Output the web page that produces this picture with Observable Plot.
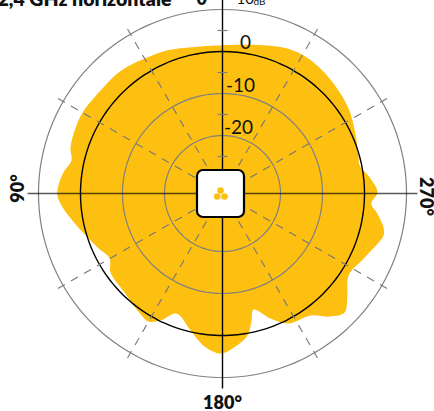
<!DOCTYPE html>
<html>
<head>
<meta charset="utf-8">
<style>html,body{margin:0;padding:0;background:#fff}svg{display:block}</style>
<script src="https://cdn.jsdelivr.net/npm/d3@7"></script>
<script src="https://cdn.jsdelivr.net/npm/@observablehq/plot@0.6"></script>
</head>
<body>
<div id="chart"></div>
<script>
const patternAngles = [0,8.5,21,30.5,34.4,41.2,49.8,60,66.1,73.2,77.7,82.5,87.2,90.7,95,100.2,106,113.4,119.9,125.2,135.9,144,150,154,159,166.9,172.9,179.3,184.1,190,192.9,195,201,206.9,215.8,221.3,225.7,230.2,237,245.3,255.4,258,262.6,266.2,270.4,275.8,281.6,284.8,294.3,304,314.7,323.4,329.6,335.9,344.5,353];
const patternDb = [1.5,1.6,2.7,3.3,3.7,4.2,4.2,4.7,4.5,4,3,4.4,5.3,5.5,4.4,2.5,0.6,-1.4,-2.8,-1.2,-0.6,0.6,1.4,-0.2,-3.2,-0.3,2.7,4.3,3,0.5,-2.8,-5.2,-1.9,0.9,2,5.2,6.8,4.9,2,3.2,5.8,5.4,3.4,1.7,3.1,1.6,-0.5,-0.3,0.9,2.4,3.4,4.1,4.3,4,2.8,1.9];
const ringDb = [10,0,-10,-20];
const ringColors = ["#808080","#000000","#808080","#808080"];
const tickDb = [5,-5,-15,-25];
const spokeAngles = [30,60,120,150,210,240,300,330];

const GOLD = "#fdc010";
const pxPerDb = 4.2, cx = 222, cy = 193, W = 434, H = 411;
const rhoOf = db => db + 142 / pxPerDb;
const polar = (deg, db) => {
  const t = deg * Math.PI / 180, r = rhoOf(db);
  return {x: -r * Math.sin(t), y: r * Math.cos(t)};
};
const pattern = patternAngles.map((a, i) => polar(a, patternDb[i]));
const circleAngles = d3.range(0, 360, 3);
const rings = ringDb.flatMap((db, i) => circleAngles.map(a => ({...polar(a, db), ring: i})));
const spokes = spokeAngles.map(a => {
  const p = polar(a, -26.2), q = polar(a, 12.6);
  return {x1: p.x, y1: p.y, x2: q.x, y2: q.y};
});
const FONT = "Lato, 'Open Sans', sans-serif";
const label = (text, dx, dy, size, weight, extra = {}) =>
  Plot.text([text], {text: d => d, frameAnchor: "top-left", lineAnchor: "middle", dx, dy, fontSize: size, fontWeight: weight, fontFamily: FONT, fill: "#111", ...extra});
const u = p => p / pxPerDb;
const reach = rhoOf(12.6);

const chart = Plot.plot({
  width: W, height: H, margin: 0,
  x: {type: "linear", domain: [-cx / pxPerDb, (W - cx) / pxPerDb], range: [0, W], axis: null},
  y: {type: "linear", domain: [-(H - cy) / pxPerDb, cy / pxPerDb], range: [H, 0], axis: null},
  style: {background: "#fff", overflow: "hidden"},
  marks: [
    Plot.line(pattern, {x: "x", y: "y", curve: "catmull-rom-closed", fill: GOLD, stroke: "none"}),
    ...ringDb.map((db, i) => Plot.line(rings.filter(d => d.ring === i), {x: "x", y: "y", curve: "catmull-rom-closed", stroke: ringColors[i], strokeWidth: i === 1 ? 1.4 : 1.2})),
    Plot.link(spokes, {x1: "x1", y1: "y1", x2: "x2", y2: "y2", stroke: "#777", strokeWidth: 1.1, strokeDasharray: "8 7"}),
    Plot.link([0], {x1: () => -reach, x2: () => reach, y1: () => 0, y2: () => 0, stroke: "#000", strokeOpacity: 0.66, strokeWidth: 1.6}),
    Plot.link([0], {x1: () => 0, x2: () => 0, y1: () => -reach, y2: () => reach, stroke: "#000", strokeWidth: 1.4}),
    Plot.link(tickDb, {x1: () => -u(5), x2: () => u(5), y1: d => rhoOf(d), y2: d => rhoOf(d), stroke: "#808080", strokeWidth: 1.2}),
    Plot.rect([0], {x1: () => u(-25), x2: () => u(22), y1: () => u(-24), y2: () => u(23), rx: 6, fill: "#fff", stroke: "#000", strokeWidth: 2.2}),
    Plot.dot([[-2, 3], [-5.3, -3], [2, -3]], {x: d => u(d[0]), y: d => u(d[1]), r: 3.3, fill: GOLD}),
    label("0", 245, 42, 19, 400, {textAnchor: "middle"}),
    label("-10", 240, 85, 19, 400, {textAnchor: "middle"}),
    label("-20", 238, 127, 19, 400, {textAnchor: "middle"}),
    label("10", 236, -1, 15, 400, {textAnchor: "start"}),
    label("dB", 253, 1, 10, 400, {textAnchor: "start"}),
    label("0°", 205, -1, 18, 800, {textAnchor: "middle"}),
    label("2,4 GHz horizontale", 171, -1, 19.5, 800, {textAnchor: "end"}),
    label("90°", 18, 188, 18, 800, {textAnchor: "middle", rotate: -90}),
    label("270°", 425, 196, 18, 800, {textAnchor: "middle", rotate: 90}),
    label("180°", 222, 403, 18, 800, {textAnchor: "middle"})
  ]
});
document.getElementById("chart").append(chart);
</script>
</body>
</html>
